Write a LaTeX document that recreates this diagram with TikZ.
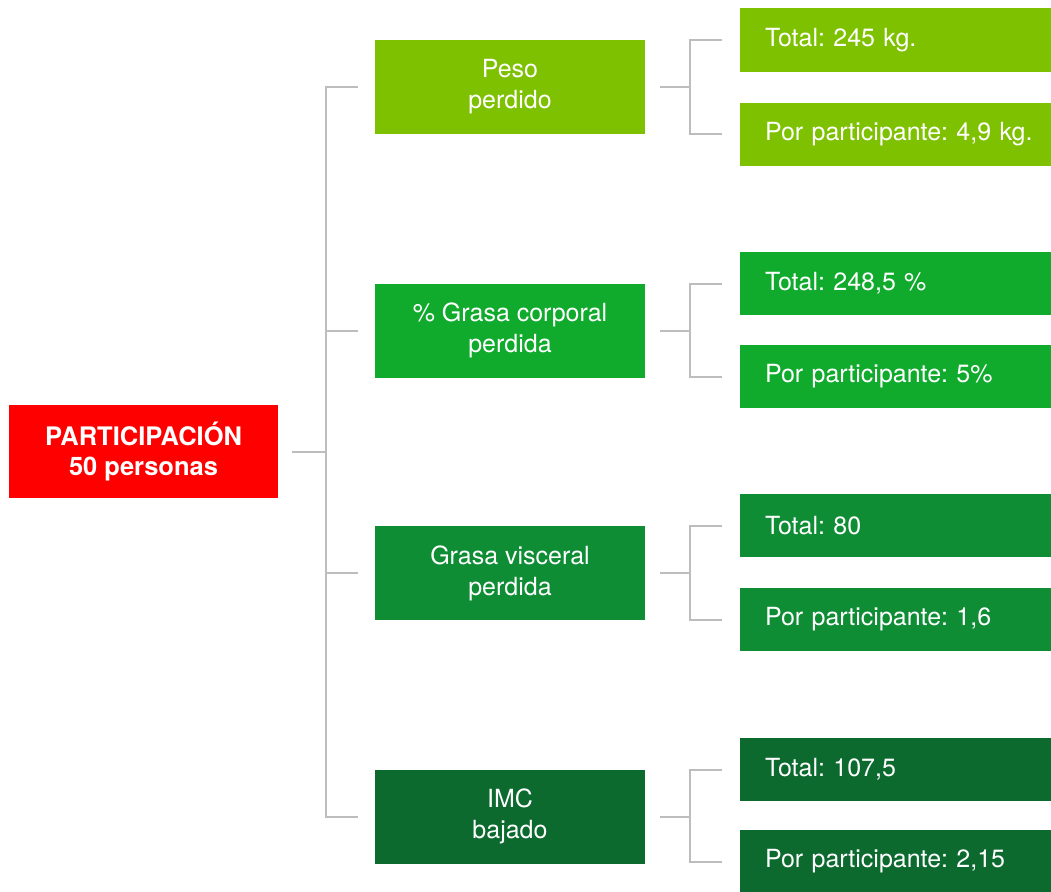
\documentclass[tikz,border=0pt]{standalone}
\usepackage{fontspec}
\setmainfont{TeX Gyre Heros}
\usepackage{tikz}
\frenchspacing

\definecolor{rojo}{HTML}{FE0000}
\definecolor{verdeA}{HTML}{7DC100}
\definecolor{verdeB}{HTML}{10AA2D}
\definecolor{verdeC}{HTML}{0E8D35}
\definecolor{verdeD}{HTML}{0C6A2F}
\definecolor{linea}{HTML}{BDBDBD}

\tikzset{
  caja/.style={draw=none, text=white, align=center, minimum width=270pt, minimum height=94pt,
    inner sep=0pt, font=\fontsize{25}{31}\selectfont},
  hoja/.style={draw=none, text=white, align=left, text width=300pt, inner xsep=25pt,
    minimum height=63pt, inner ysep=0pt, font=\fontsize{25}{28}\selectfont},
  rama/.style={draw=linea, line width=2pt}
}

\begin{document}
\begin{tikzpicture}[x=1pt,y=-1pt]
                    \useasboundingbox (0,0) rectangle (1051,891);
                    % raiz
                    \node[caja, fill=rojo, minimum width=269pt, minimum height=93pt,
                      font=\fontsize{25.5}{30}\selectfont\bfseries] (raiz) at (143.5,451.5) {PARTICIPACIÓN\\50 personas};
                    % nivel medio
                    \node[caja, fill=verdeA] (peso) at (510,87) {Peso\\perdido};
                    \node[caja, fill=verdeB] (grasa) at (510,330.5) {\% Grasa corporal\\perdida};
                    \node[caja, fill=verdeC] (visceral) at (510,573) {Grasa visceral\\perdida};
                    \node[caja, fill=verdeD] (imc) at (510,816.5) {IMC\\bajado};
                    % hojas (salen por el borde derecho)
                    \node[hoja, fill=verdeA] (pesoT) at (915,40) {Total: 245 kg.};
                    \node[hoja, fill=verdeA] (pesoP) at (915,134) {Por participante: 4,9 kg.};
                    \node[hoja, fill=verdeB] (grasaT) at (915,283.5) {Total: 248,5 \%};
                    \node[hoja, fill=verdeB] (grasaP) at (915,376.5) {Por participante: 5\%};
                    \node[hoja, fill=verdeC] (visceralT) at (915,525.5) {Total: 80};
                    \node[hoja, fill=verdeC] (visceralP) at (915,619.5) {Por participante: 1,6};
                    \node[hoja, fill=verdeD] (imcT) at (915,769.5) {Total: 107,5};
                    \node[hoja, fill=verdeD] (imcP) at (915,861.5) {Por participante: 2,15};
                    % tronco
                    \coordinate (tronco) at (326,451.5);
                    \draw[rama] ([xshift=14pt]raiz.east) -- (tronco);
                    \draw[rama] ([xshift=-17pt]peso.west) -| (tronco |- peso) -- (tronco |- imc) -- ([xshift=-17pt]imc.west);
                    \draw[rama] (tronco |- grasa) -- ([xshift=-17pt]grasa.west);
                    \draw[rama] (tronco |- visceral) -- ([xshift=-17pt]visceral.west);
                    % ramas a las hojas
                    \draw[rama] ([xshift=15pt]peso.east) -- ++(30,0);
                    \draw[rama] ([xshift=-18pt]pesoT.west) -- ++(-32,0) |- ([xshift=-18pt]pesoP.west);
                    \draw[rama] ([xshift=15pt]grasa.east) -- ++(30,0);
                    \draw[rama] ([xshift=-18pt]grasaT.west) -- ++(-32,0) |- ([xshift=-18pt]grasaP.west);
                    \draw[rama] ([xshift=15pt]visceral.east) -- ++(30,0);
                    \draw[rama] ([xshift=-18pt]visceralT.west) -- ++(-32,0) |- ([xshift=-18pt]visceralP.west);
                    \draw[rama] ([xshift=15pt]imc.east) -- ++(30,0);
                    \draw[rama] ([xshift=-18pt]imcT.west) -- ++(-32,0) |- ([xshift=-18pt]imcP.west);
\end{tikzpicture}
\end{document}
